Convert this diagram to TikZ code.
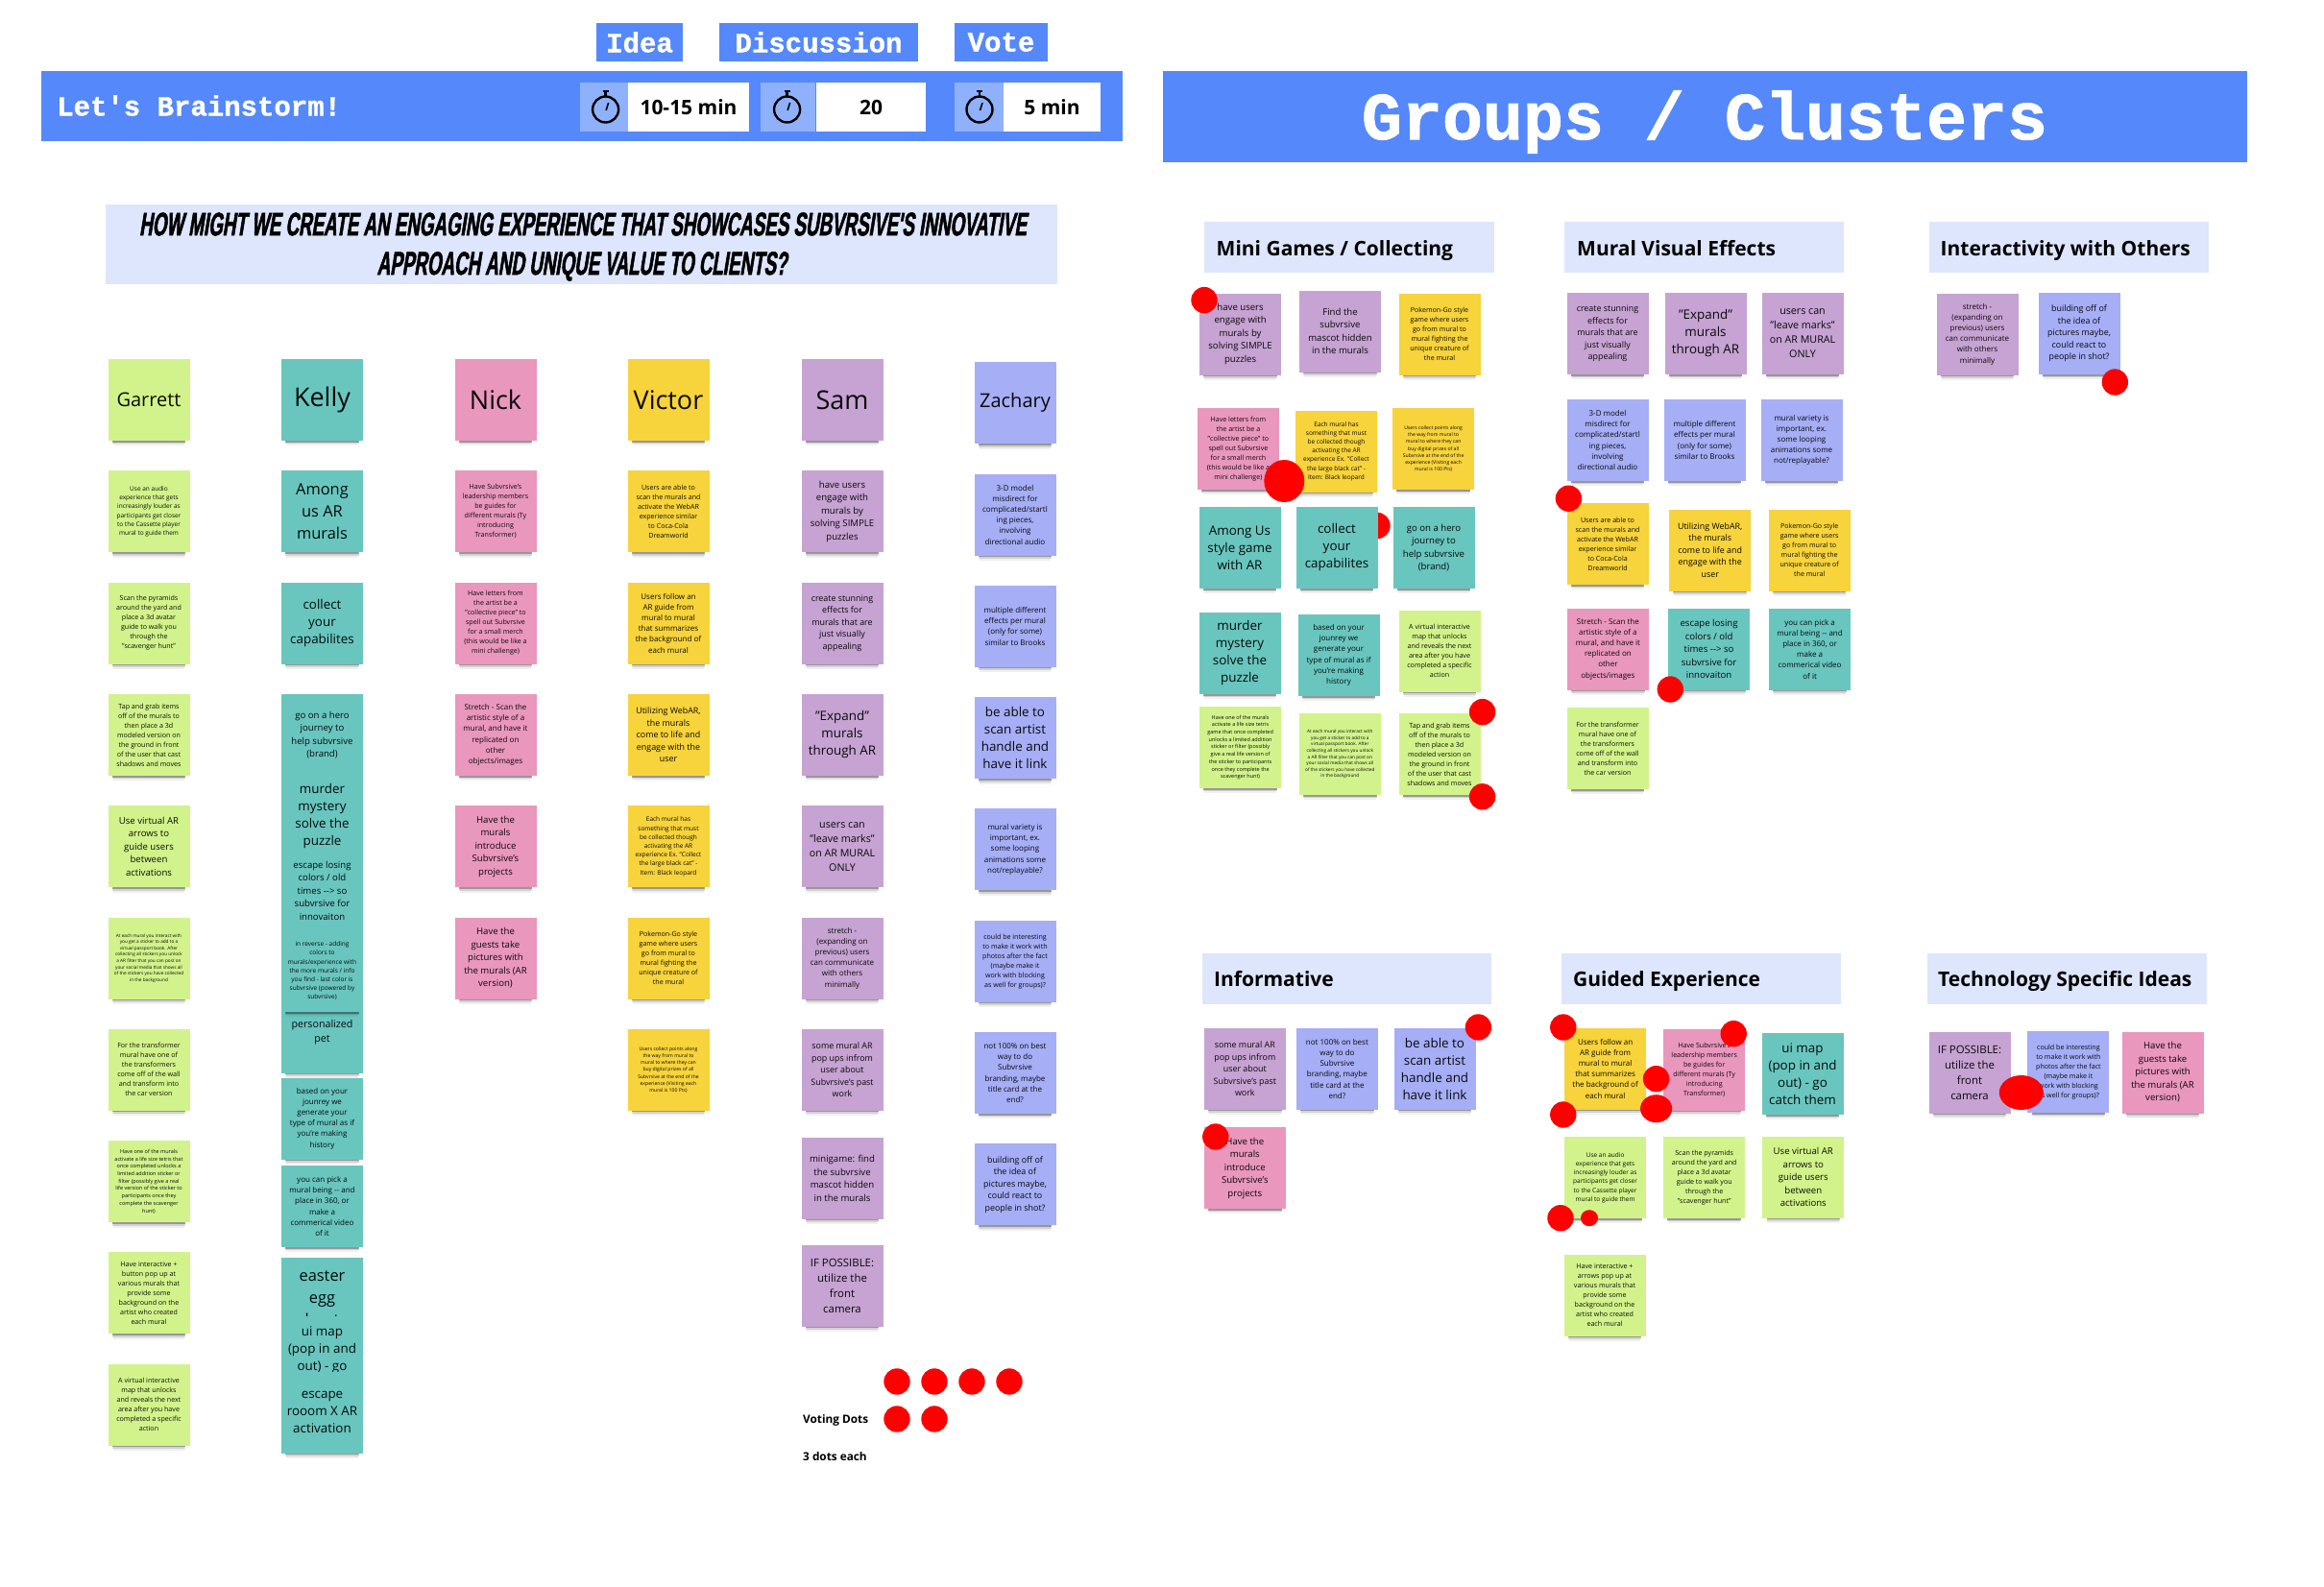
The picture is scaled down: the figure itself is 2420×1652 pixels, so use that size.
\documentclass[tikz,border=0pt]{standalone}
\usepackage{fontspec}
\setmainfont{Open Sans}
\setmonofont{Liberation Mono}
\newfontfamily\heavymono[UprightFont=* Bold,FakeBold=1.2]{Liberation Mono}
\newfontfamily\askfont[UprightFont=* Bold,FakeStretch=0.552,FakeSlant=0.16,FakeBold=1.6]{Liberation Sans}
\usetikzlibrary{positioning,shadows,shapes.geometric}
\definecolor{barblue}{HTML}{5588FB}
\definecolor{lightblue}{HTML}{8FB1FB}
\definecolor{paleblue}{HTML}{DDE6FC}
\definecolor{notegreen}{HTML}{D2F38B}
\definecolor{noteteal}{HTML}{69C6BF}
\definecolor{notepink}{HTML}{EA97BE}
\definecolor{noteyellow}{HTML}{F7D33C}
\definecolor{notepurple}{HTML}{C6A3D2}
\definecolor{noteblue}{HTML}{A6AEF6}
\tikzset{sticky/.style={
    % The shape:
    rectangle,
    minimum width=85pt,
    minimum height=85pt,
    inner sep=0pt,
    outer sep=0pt,
    align=center,
    text=black,
    text opacity=.95,
    % The soft edge under a note:
    general shadow={shadow yshift=-12pt,shadow scale=.88,opacity=.06,fill=black},
    general shadow={shadow yshift=-8.5pt,shadow scale=.9,opacity=.12,fill=black},
    general shadow={shadow yshift=-6.5pt,shadow scale=.9,opacity=.28,fill=black},
    },
    greennote/.style={sticky,fill=notegreen},
    tealnote/.style={sticky,fill=noteteal},
    pinknote/.style={sticky,fill=notepink},
    yellownote/.style={sticky,fill=noteyellow},
    purplenote/.style={sticky,fill=notepurple},
    bluenote/.style={sticky,fill=noteblue},
    % Text sizes, named after the line pitch:
    s66/.style={font=\fontsize{4.7}{6.6}\selectfont},
    s72/.style={font=\fontsize{5.1}{7.2}\selectfont},
    s77/.style={font=\fontsize{5.5}{7.7}\selectfont},
    s92/.style={font=\fontsize{6.5}{9.2}\selectfont},
    s100/.style={font=\fontsize{7.1}{10}\selectfont},
    s112/.style={font=\fontsize{8}{11.2}\selectfont},
    s125/.style={font=\fontsize{8.9}{12.5}\selectfont},
    s135/.style={font=\fontsize{9.6}{13.5}\selectfont},
    s150/.style={font=\fontsize{10.7}{15}\selectfont},
    s160/.style={font=\fontsize{11.4}{16}\selectfont},
    s180/.style={font=\fontsize{13.4}{18}\selectfont},
    s230/.style={font=\fontsize{16.4}{23}\selectfont},
    nameone/.style={font=\fontsize{20}{24}\selectfont},
    nametwo/.style={font=\fontsize{27}{32}\selectfont},
    votedot/.style={ellipse,fill=red,inner sep=0pt,minimum width=27.4pt,minimum height=27.4pt},
    titlebar/.style={rectangle,fill=barblue,inner sep=0pt,text=white},
    phasetag/.style={titlebar,minimum height=40pt,font=\heavymono\fontsize{29}{34}\selectfont},
    watchbox/.style={rectangle,fill=lightblue,inner sep=0pt,minimum height=51pt},
    timebox/.style={rectangle,fill=white,inner sep=0pt,minimum height=51pt,font=\bfseries\fontsize{21}{25}\selectfont},
    clusterhead/.style={rectangle,fill=paleblue,inner sep=0pt,minimum height=53pt},
    clusterlabel/.style={anchor=base west,inner sep=0pt,font=\bfseries\fontsize{21}{26}\selectfont},
    votetext/.style={anchor=base west,inner sep=0pt,font=\bfseries\fontsize{11.8}{14}\selectfont},
}

\begin{document}
\begin{tikzpicture}[x=1pt,y=-1pt,node distance = 31.3pt]
    \useasboundingbox (0,0) rectangle (2420,1652);
    \fill[white] (0,0) rectangle (2420,1652);

    % Heading, left side
    \node (idea)       [phasetag,minimum width=90pt]  at (666,44)    {Idea};
    \node (discussion) [phasetag,minimum width=207pt] at (852.5,44)  {Discussion};
    \node (vote)       [phasetag,minimum width=97pt]  at (1042.5,44) {Vote};
    \node (brainbar)   [titlebar,minimum width=1126pt,minimum height=73pt] at (606,110.5) {};
    \node (brainlabel) [anchor=west,inner sep=0pt,text=white,font=\heavymono\fontsize{29}{35}\selectfont] at (59,110) {Let's Brainstorm!};
    \node (watchone)   [watchbox,minimum width=50pt]    at (629,111.5)   {};
    \node (timeone)    [timebox,minimum width=126pt]    at (717,111.5)   {10-15 min};
    \node (watchtwo)   [watchbox,minimum width=57.5pt]  at (820.7,111.5) {};
    \node (timetwo)    [timebox,minimum width=114.5pt]  at (907,111.5)   {20};
    \node (watchthree) [watchbox,minimum width=51pt]    at (1019.5,111.5){};
    \node (timethree)  [timebox,minimum width=101pt]    at (1095.5,111.5){5 min};
    \foreach \wx in {630.6,819.6,1020} {
        \draw[line width=2.4pt] (\wx,114) circle [radius=13.5pt];
        \draw[line width=2.4pt] (\wx,100) -- (\wx,95);
        \draw[line width=1.6pt] (\wx-3,95) -- (\wx+3,95);
        \draw[line width=1.6pt] (\wx+.5,115) -- (\wx+3,107);
    }
    \node (askbox) [rectangle,fill=paleblue,inner sep=0pt,minimum width=991pt,minimum height=83pt] at (605.5,254.5) {};
    \node (askone) [inner sep=0pt,font=\askfont\fontsize{34}{40}\selectfont] at (607,233.5) {HOW MIGHT WE CREATE AN ENGAGING EXPERIENCE THAT SHOWCASES SUBVRSIVE'S INNOVATIVE};
    \node (asktwo) [inner sep=0pt,font=\askfont\fontsize{34}{40}\selectfont] at (606,277.5) {APPROACH AND UNIQUE VALUE TO CLIENTS?};

    % Garrett
    \node (garrett)  [greennote,nameone] at (155,416.5) {Garrett};
    \node (garrett1) [greennote,s92,below=of garrett]   {Use an audio\\experience that gets\\increasingly louder as\\participants get closer\\to the Cassette player\\mural to guide them};
    \node (garrett2) [greennote,s100,below=of garrett1] {Scan the pyramids\\around the yard and\\place a 3d avatar\\guide to walk you\\through the\\"scavenger hunt"};
    \node (garrett3) [greennote,s100,below=of garrett2] {Tap and grab items\\off of the murals to\\then place a 3d\\modeled version on\\the ground in front\\of the user that cast\\shadows and moves};
    \node (garrett4) [greennote,s135,below=of garrett3] {Use virtual AR\\arrows to\\guide users\\between\\activations};
    \node (garrett5) [greennote,s66,below=of garrett4]  {At each mural you interact with\\you get a sticker to add to a\\virtual passport book. After\\collecting all stickers you unlock\\a AR filter that you can post on\\your social media that shows all\\of the stickers you have collected\\in the background};
    \node (garrett6) [greennote,s100,below=of garrett5] {For the transformer\\mural have one of\\the transformers\\come off of the wall\\and transform into\\the car version};
    \node (garrett7) [greennote,s77,below=of garrett6]  {Have one of the murals\\activate a life size tetris that\\once completed unlocks a\\limited addition sticker or\\filter (possibly give a real\\life version of the sticker to\\participants once they\\complete the scavenger\\hunt)};
    \node (garrett8) [greennote,s100,below=of garrett7] {Have interactive +\\button pop up at\\various murals that\\provide some\\background on the\\artist who created\\each mural};
    \node (garrett9) [greennote,s100,below=of garrett8] {A virtual interactive\\map that unlocks\\and reveals the next\\area after you have\\completed a specific\\action};

    % Kelly
    \node (kelly)  [tealnote,nametwo] at (335.5,416.5) {Kelly};
    \node (kelly1) [tealnote,s230,below=of kelly]  {Among\\us AR\\murals};
    \node (kelly2) [tealnote,s180,below=of kelly1] {collect\\your\\capabilites};
    \node (kelly3) [tealnote,s135,below=of kelly2] {go on a hero\\journey to\\help subvrsive\\(brand)};
    \node (kelly4) [tealnote,s180,below=0pt of kelly3]  {murder\\mystery\\solve the\\puzzle};
    \node (kelly5) [tealnote,s135,below=-8pt of kelly4] {escape losing\\colors / old\\times -{}-> so\\subvrsive for\\innovaiton};
    \node (kelly7) [tealnote,s150] at (335.5,1075) {personalized\\pet};
    \node (kelly6) [tealnote,s92,below=-1pt of kelly5]  {in reverse - adding\\colors to\\murals/experience with\\the more murals / info\\you find - last color is\\subvrsive (powered by\\subvrsive)};
    \node (kelly8) [tealnote,s112] at (335.5,1165)   {based on your\\jounrey we\\generate your\\type of mural as if\\you're making\\history};
    \node (kelly9) [tealnote,s112] at (335.5,1256.5) {you can pick a\\mural being -{}- and\\place in 360, or\\make a\\commerical video\\of it};
    \node (kelly10) [tealnote,s230] at (335.5,1352.5) {easter\\egg\\hunt};
    \node (kelly11) [tealnote,s180] at (335.5,1413.5) {ui map\\(pop in and\\out) - go\\catch them};
    \node (kelly12) [tealnote,s180] at (335.5,1471)   {escape\\rooom X AR\\activation};

    % Nick
    \node (nick)  [pinknote,nametwo] at (516,416.5) {Nick};
    \node (nick1) [pinknote,s100,below=of nick]  {Have Subvrsive's\\leadership members\\be guides for\\different murals (Ty\\introducing\\Transformer)};
    \node (nick2) [pinknote,s100,below=of nick1] {Have letters from\\the artist be a\\"collective piece" to\\spell out Subvrsive\\for a small merch\\(this would be like a\\mini challenge)};
    \node (nick3) [pinknote,s112,below=of nick2] {Stretch - Scan the\\artistic style of a\\mural, and have it\\replicated on\\other\\objects/images};
    \node (nick4) [pinknote,s135,below=of nick3] {Have the\\murals\\introduce\\Subvrsive's\\projects};
    \node (nick5) [pinknote,s135,below=of nick4] {Have the\\guests take\\pictures with\\the murals (AR\\version)};

    % Victor
    \node (victor)  [yellownote,nametwo] at (696,416.5) {Victor};
    \node (victor1) [yellownote,s100,below=of victor]  {Users are able to\\scan the murals and\\activate the WebAR\\experience similar\\to Coca-Cola\\Dreamworld};
    \node (victor2) [yellownote,s112,below=of victor1] {Users follow an\\AR guide from\\mural to mural\\that summarizes\\the background of\\each mural};
    \node (victor3) [yellownote,s125,below=of victor2] {Utilizing WebAR,\\the murals\\come to life and\\engage with the\\user};
    \node (victor4) [yellownote,s92,below=of victor3]  {Each mural has\\something that must\\be collected though\\activating the AR\\experience Ex. "Collect\\the large black cat" -\\Item: Black leopard};
    \node (victor5) [yellownote,s100,below=of victor4] {Pokemon-Go  style\\game where users\\go from mural to\\mural fighting the\\unique creature of\\the mural};
    \node (victor6) [yellownote,s72,below=of victor5]  {Users collect points along\\the way from mural to\\mural to where they can\\buy digital prizes of all\\Subvrsive at the end of the\\experience (Visiting each\\mural is 100 Pts)};

    % Sam
    \node (sam)  [purplenote,nametwo] at (877,416.5) {Sam};
    \node (sam1) [purplenote,s135,below=of sam]  {have users\\engage with\\murals by\\solving SIMPLE\\puzzles};
    \node (sam2) [purplenote,s125,below=of sam1] {create stunning\\effects for\\murals that are\\just visually\\appealing};
    \node (sam3) [purplenote,s180,below=of sam2] {"Expand"\\murals\\through AR};
    \node (sam4) [purplenote,s150,below=of sam3] {users can\\"leave marks"\\on AR MURAL\\ONLY};
    \node (sam5) [purplenote,s112,below=of sam4] {stretch -\\(expanding on\\previous) users\\can communicate\\with others\\minimally};
    \node (sam6) [purplenote,s125,below=of sam5] {some mural AR\\pop ups infrom\\user about\\Subvrsive's past\\work};
    \node (sam7) [purplenote,s135,below=28pt of sam6] {minigame: find\\the subvrsive\\mascot hidden\\in the murals};
    \node (sam8) [purplenote,s160,below=27pt of sam7] {IF POSSIBLE:\\utilize the\\front\\camera};

    % Zachary
    \node (zachary)  [bluenote,nameone] at (1057,419.7) {Zachary};
    \node (zachary1) [bluenote,s112,below=of zachary]  {3-D model\\misdirect for\\complicated/startl\\ing pieces,\\involving\\directional audio};
    \node (zachary2) [bluenote,s112,below=of zachary1] {multiple different\\effects per mural\\(only for some)\\similar to Brooks};
    \node (zachary3) [bluenote,s180,below=of zachary2] {be able to\\scan artist\\handle and\\have it link};
    \node (zachary4) [bluenote,s112,below=of zachary3] {mural variety is\\important, ex.\\some looping\\animations some\\not/replayable?};
    \node (zachary5) [bluenote,s100,below=of zachary4] {could be interesting\\to make it work with\\photos after the fact\\(maybe make it\\work with blocking\\as well for groups)?};
    \node (zachary6) [bluenote,s112,below=of zachary5] {not 100\% on best\\way to do\\Subvrsive\\branding, maybe\\title card at the\\end?};
    \node (zachary7) [bluenote,s125,below=of zachary6] {building off of\\the idea of\\pictures maybe,\\could react to\\people in shot?};

    % Voting dots
    \foreach \dname/\dx/\dy in {a/934/1439,b/973/1439,c/1012/1439,d/1051/1439,e/934/1478,f/973/1478} {
        \node (spare\dname) [votedot] at (\dx,\dy) {};
    }
    \node (votinglabel) [votetext] at (836,1482)   {Voting Dots};
    \node (dotslabel)   [votetext] at (836,1521.5) {3 dots each};

    % Heading, right side
    \node (groupsbar)  [titlebar,minimum width=1129pt,minimum height=95pt] at (1775.5,121.5) {};
    \node (groupstext) [inner sep=0pt,text=white,font=\heavymono\fontsize{70}{80}\selectfont] at (1775,127) {Groups / Clusters};

    \node (minihead)  [clusterhead,minimum width=302pt] at (1405,257.5)   {};
    \node (minitext)  [clusterlabel] at (1266.5,266.5) {Mini Games / Collecting};
    \node (muralhead) [clusterhead,minimum width=291pt] at (1774.5,257.5) {};
    \node (muraltext) [clusterlabel] at (1642,266.5)   {Mural Visual Effects};
    \node (otherhead) [clusterhead,minimum width=291pt] at (2154.5,257.5) {};
    \node (othertext) [clusterlabel] at (2020.5,266.5) {Interactivity with Others};
    \node (infohead)  [clusterhead,minimum width=301pt] at (1402.5,1019.5){};
    \node (infotext)  [clusterlabel] at (1264,1027.5)  {Informative};
    \node (guidehead) [clusterhead,minimum width=291pt] at (1771.5,1019.5){};
    \node (guidetext) [clusterlabel] at (1638,1027.5)  {Guided Experience};
    \node (techhead)  [clusterhead,minimum width=291pt] at (2152,1019.5)  {};
    \node (techtext)  [clusterlabel] at (2018,1027.5)  {Technology Specific Ideas};

    % Mini Games / Collecting
    \node (mini1)  [purplenote,s135] at (1291.6,348)   {have users\\engage with\\murals by\\solving SIMPLE\\puzzles};
    \node (mini2)  [purplenote,s135] at (1395.5,345)   {Find the\\subvrsive\\mascot hidden\\in the murals};
    \node (mini3)  [yellownote,s100] at (1499,348)     {Pokemon-Go  style\\game where users\\go from mural to\\mural fighting the\\unique creature of\\the mural};
    \node (mini4)  [pinknote,s100]   at (1289.4,467.5) {Have letters from\\the artist be a\\"collective piece" to\\spell out Subvrsive\\for a small merch\\(this would be like a\\mini challenge)};
    \node (mini5)  [yellownote,s92]  at (1391.5,470)   {Each mural has\\something that must\\be collected though\\activating the AR\\experience Ex. "Collect\\the large black cat" -\\Item: Black leopard};
    \node (mini6)  [yellownote,s72]  at (1492.6,467.5) {Users collect points along\\the way from mural to\\mural to where they can\\buy digital prizes of all\\Subvrsive at the end of the\\experience (Visiting each\\mural is 100 Pts)};
    \node (dothidden) [votedot] at (1434,547.5) {};
    \node (mini7)  [tealnote,s180]   at (1291,570.5)   {Among Us\\style game\\with AR};
    \node (mini8)  [tealnote,s180]   at (1392,570.5)   {collect\\your\\capabilites};
    \node (mini9)  [tealnote,s135]   at (1493,570.5)   {go on a hero\\journey to\\help subvrsive\\(brand)};
    \node (mini10) [tealnote,s180]   at (1291,680.5)   {murder\\mystery\\solve the\\puzzle};
    \node (mini11) [tealnote,s112]   at (1394,682.5)   {based on your\\jounrey we\\generate your\\type of mural as if\\you're making\\history};
    \node (mini12) [greennote,s100]  at (1499,678)     {A virtual interactive\\map that unlocks\\and reveals the next\\area after you have\\completed a specific\\action};
    \node (mini13) [greennote,s77]   at (1291.6,778.5) {Have one of the murals\\activate a life size tetris\\game that once completed\\unlocks a limited addition\\sticker or filter (possibly\\give a real life version of\\the sticker to participants\\once they complete the\\scavenger hunt)};
    \node (mini14) [greennote,s66]   at (1395.3,785.5) {At each mural you interact with\\you get a sticker to add to a\\virtual passport book. After\\collecting all stickers you unlock\\a AR filter that you can post on\\your social media that shows all\\of the stickers you have collected\\in the background};
    \node (mini15) [greennote,s100]  at (1499,785.5)   {Tap and grab items\\off of the murals to\\then place a 3d\\modeled version on\\the ground in front\\of the user that cast\\shadows and moves};

    % Mural Visual Effects
    \node (effect1)  [purplenote,s125] at (1674,347.5)   {create stunning\\effects for\\murals that are\\just visually\\appealing};
    \node (effect2)  [purplenote,s180] at (1776,347.5)   {"Expand"\\murals\\through AR};
    \node (effect3)  [purplenote,s150] at (1877,347.5)   {users can\\"leave marks"\\on AR MURAL\\ONLY};
    \node (effect4)  [bluenote,s112]   at (1674,458.5)   {3-D model\\misdirect for\\complicated/startl\\ing pieces,\\involving\\directional audio};
    \node (effect5)  [bluenote,s112]   at (1775,458.5)   {multiple different\\effects per mural\\(only for some)\\similar to Brooks};
    \node (effect6)  [bluenote,s112]   at (1876,458.5)   {mural variety is\\important, ex.\\some looping\\animations some\\not/replayable?};
    \node (effect7)  [yellownote,s100] at (1674,566.5)   {Users are able to\\scan the murals and\\activate the WebAR\\experience similar\\to Coca-Cola\\Dreamworld};
    \node (effect8)  [yellownote,s125] at (1780.7,573)   {Utilizing WebAR,\\the murals\\come to life and\\engage with the\\user};
    \node (effect9)  [yellownote,s100] at (1884.2,573)   {Pokemon-Go  style\\game where users\\go from mural to\\mural fighting the\\unique creature of\\the mural};
    \node (effect10) [pinknote,s112]   at (1674.4,676)   {Stretch - Scan the\\artistic style of a\\mural, and have it\\replicated on\\other\\objects/images};
    \node (effect11) [tealnote,s135]   at (1779.6,676)   {escape losing\\colors / old\\times -{}-> so\\subvrsive for\\innovaiton};
    \node (effect12) [tealnote,s112]   at (1884.6,676)   {you can pick a\\mural being -{}- and\\place in 360, or\\make a\\commerical video\\of it};
    \node (effect13) [greennote,s100]  at (1674,779.5)   {For the transformer\\mural have one of\\the transformers\\come off of the wall\\and transform into\\the car version};

    % Interactivity with Others
    \node (other1) [purplenote,s112] at (2059,348)   {stretch -\\(expanding on\\previous) users\\can communicate\\with others\\minimally};
    \node (other2) [bluenote,s125]   at (2165,347.5) {building off of\\the idea of\\pictures maybe,\\could react to\\people in shot?};

    % Informative
    \node (info1) [purplenote,s125] at (1296.3,1113.3) {some mural AR\\pop ups infrom\\user about\\Subvrsive's past\\work};
    \node (info2) [bluenote,s112]   at (1392.4,1113.3) {not 100\% on best\\way to do\\Subvrsive\\branding, maybe\\title card at the\\end?};
    \node (info3) [bluenote,s180]   at (1494,1113.3)   {be able to\\scan artist\\handle and\\have it link};
    \node (info4) [pinknote,s135]   at (1296.3,1216.5) {Have the\\murals\\introduce\\Subvrsive's\\projects};

    % Guided Experience
    \node (guide1) [yellownote,s112] at (1671.6,1113)   {Users follow an\\AR guide from\\mural to mural\\that summarizes\\the background of\\each mural};
    \node (guide2) [pinknote,s100]   at (1774.7,1114)   {Have Subvrsive's\\leadership members\\be guides for\\different murals (Ty\\introducing\\Transformer)};
    \node (guide3) [tealnote,s180]   at (1877,1118.5)   {ui map\\(pop in and\\out) - go\\catch them};
    \node (guide4) [greennote,s92]   at (1671.6,1226.5) {Use an audio\\experience that gets\\increasingly louder as\\participants get closer\\to the Cassette player\\mural to guide them};
    \node (guide5) [greennote,s100]  at (1774.7,1226.5) {Scan the pyramids\\around the yard and\\place a 3d avatar\\guide to walk you\\through the\\"scavenger hunt"};
    \node (guide6) [greennote,s135]  at (1877.8,1226)   {Use virtual AR\\arrows to\\guide users\\between\\activations};
    \node (guide7) [greennote,s100]  at (1671,1349)     {Have interactive +\\arrows pop up at\\various murals that\\provide some\\background on the\\artist who created\\each mural};

    % Technology Specific Ideas
    \node (tech1) [purplenote,s160] at (2051,1117)    {IF POSSIBLE:\\utilize the\\front\\camera};
    \node (tech2) [bluenote,s100]   at (2153.9,1116.5){could be interesting\\to make it work with\\photos after the fact\\(maybe make it\\work with blocking\\as well for groups)?};
    \node (tech3) [pinknote,s135]   at (2252,1117)    {Have the\\guests take\\pictures with\\the murals (AR\\version)};

    % Votes on the clusters
    \foreach \dname/\dx/\dy in {a/1254/312.6,b/1543.6/741.6,c/1543.6/829.8,d/1633.4/519.2,e/1739.3/718,f/2202.3/398,
        g/1539.4/1070,h/1265.8/1184,i/1627.8/1070,j/1627.8/1161,k/1805.2/1076.7,l/1724.6/1123.7,m/1625/1268.7} {
        \node (vote\dname) [votedot] at (\dx,\dy) {};
    }
    \node (votelarge) [votedot,minimum width=42pt,minimum height=44pt] at (1337.3,501)    {};
    \node (votewide)  [votedot,minimum width=33pt,minimum height=29pt] at (1724.6,1154.7) {};
    \node (votesmall) [votedot,minimum width=18pt,minimum height=17pt] at (1655,1268.7)   {};
    \node (votetech)  [votedot,minimum width=46pt,minimum height=36pt] at (2104.8,1138)   {};
\end{tikzpicture}
\end{document}
